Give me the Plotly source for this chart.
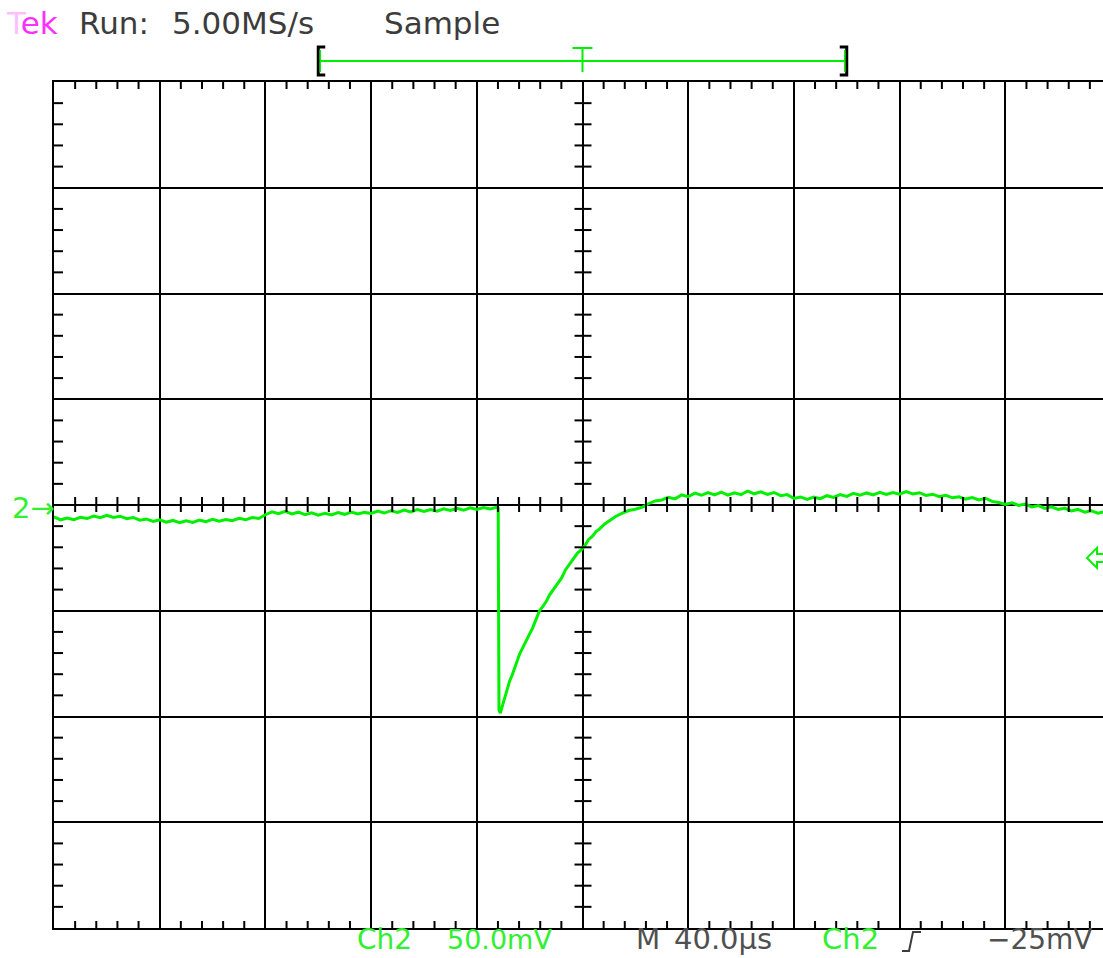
import plotly.graph_objects as go

# ---- Channel 2 record: time (µs, trigger at 0) and voltage (mV) ----
t_us = [
    -200.0, -197.5, -195.0, -192.5, -190.0, -187.5, -185.0, -182.5, -180.0, -177.5,
    -175.0, -172.5, -170.0, -167.5, -165.0, -162.5, -160.0, -157.5, -155.0, -152.5,
    -150.0, -147.5, -145.0, -142.5, -140.0, -137.5, -135.0, -132.5, -130.0, -127.5,
    -125.0, -122.5, -120.0, -117.5, -115.0, -112.5, -110.0, -107.5, -105.0, -102.5,
    -100.0, -97.5, -95.0, -92.5, -90.0, -87.5, -85.0, -82.5, -80.0, -77.5,
    -75.0, -72.5, -70.0, -67.5, -65.0, -62.5, -60.0, -57.5, -55.0, -52.5,
    -50.0, -47.5, -45.0, -42.5, -40.0, -37.5, -35.0, -32.5,
    -31.9, -31.6, -31.1,
    -30.2, -29.5, -28.5, -27.6, -26.6, -25.7, -24.8, -23.8, -22.5, -21.2,
    -20.0, -18.9, -17.6, -16.3, -15.0, -13.6, -12.5, -11.4, -9.7, -7.9,
    -6.4, -4.9, -3.4, -1.9, -0.5, 0.8, 2.3, 3.8, 5.1, 6.4,
    8.3, 10.2, 12.5, 15.1, 17.5, 20.0, 22.7, 25.0, 27.5, 30.0,
    32.5, 35.0, 37.5, 40.0, 42.5, 45.0, 47.5, 50.0, 52.5, 55.0,
    57.5, 60.0, 62.5, 65.0, 67.5, 70.0, 72.5, 75.0, 77.5, 80.0,
    82.5, 85.0, 87.5, 90.0, 92.5, 95.0, 97.5, 100.0, 102.5, 105.0,
    107.5, 110.0, 112.5, 115.0, 117.5, 120.0, 122.5, 125.0, 127.5, 130.0,
    132.5, 135.0, 137.5, 140.0, 142.5, 145.0, 147.5, 150.0, 152.5, 155.0,
    157.5, 160.0, 162.5, 165.0, 167.5, 170.0, 172.5, 175.0, 177.5, 180.0,
    182.5, 185.0, 187.5, 190.0, 192.5, 195.0, 197.5,
]
v_mv = [
    -5.6, -7.0, -6.2, -6.9, -5.8, -6.4, -5.2, -6.0, -4.9, -5.9,
    -5.3, -6.5, -5.9, -7.2, -6.6, -7.8, -7.0, -8.1, -7.3, -8.4,
    -7.5, -8.2, -7.1, -7.9, -6.8, -7.7, -6.9, -7.4, -6.3, -7.0,
    -5.9, -6.4, -4.6, -3.2, -4.1, -3.0, -4.2, -3.4, -4.6, -3.7,
    -4.8, -3.9, -4.7, -3.6, -4.4, -3.3, -4.2, -3.5, -4.0, -2.9,
    -3.8, -2.7, -3.5, -2.4, -3.3, -2.2, -3.0, -2.1, -2.9, -1.8,
    -2.6, -1.6, -2.4, -1.3, -2.1, -1.2, -1.9, -1.1,
    -1.6, -97.0, -98.4,
    -94.5, -91.3, -87.6, -83.3, -80.4, -77.1, -74.0, -70.5, -67.2, -64.3,
    -60.9, -58.2, -54.0, -50.1, -47.9, -45.4, -42.6, -40.7, -37.3, -34.5,
    -30.6, -27.9, -25.0, -22.7, -21.2, -19.4, -16.3, -14.7, -12.6, -11.4,
    -9.1, -7.6, -5.4, -3.8, -2.6, -2.0, -1.0, 0.6, 1.9, 2.4,
    3.6, 2.9, 4.8, 3.9, 5.6, 4.6, 5.9, 4.8, 6.1, 4.7,
    5.8, 4.9, 6.6, 5.3, 6.2, 5.0, 5.9, 4.4, 4.9, 3.1,
    3.8, 2.6, 3.7, 3.0, 4.4, 3.6, 4.9, 4.1, 5.5, 4.6,
    5.7, 4.8, 6.0, 5.0, 5.9, 5.1, 6.3, 5.2, 5.8, 4.5,
    5.1, 3.9, 4.6, 3.4, 3.9, 2.8, 3.5, 2.4, 3.2, 1.7,
    1.2, 0.3, 1.0, -0.2, 0.4, -0.9, -0.3, -1.6, -0.9, -2.1,
    -1.5, -2.8, -2.1, -3.4, -2.7, -3.9, -3.2,
]

# ---- Scope settings ----
time_per_div = 40.0      # µs
volts_per_div = 50.0     # mV
trigger_level = -25.0    # mV
record_window = (-100.0, 100.0)  # µs, shown in the top bar

# ---- Page geometry (pixels) ----
W, H = 1103, 958
L, R, T, B = 54, 1103, 82, 928
PX_PER_DIV = 105.7
x_lo = -5 * time_per_div
x_hi = x_lo + (R - L) / PX_PER_DIV * time_per_div
y_lo, y_hi = -4 * volts_per_div, 4 * volts_per_div


def pxx(x):
    return (x - L) / (R - L)


def pxy(y):
    return (B - y) / (B - T)


GREEN = "#00f000"
TXT_GREEN = "#30f030"
GRAY = "#3c3c3c"
FONT = "DejaVu Sans"

fig = go.Figure()
fig.add_trace(go.Scatter(
    x=t_us, y=v_mv, mode="lines",
    line=dict(color=GREEN, width=3),
    hoverinfo="skip", showlegend=False,
))

shapes = []
# graticule minor ticks
minor_x = [x_lo + i * time_per_div / 5 for i in range(60)]
minor_x = [x for x in minor_x if x <= x_hi and abs(round(x / time_per_div) * time_per_div - x) > 1e-6]
minor_y = [y_lo + i * volts_per_div / 5 for i in range(41)]
minor_y = [y for y in minor_y if abs(round(y / volts_per_div) * volts_per_div - y) > 1e-6]
tick = dict(color="black", width=2)
for x in minor_x:
    shapes.append(dict(type="line", xref="x", yref="y", ysizemode="pixel", yanchor=y_hi,
                       x0=x, x1=x, y0=0, y1=-7, line=tick))
    shapes.append(dict(type="line", xref="x", yref="y", ysizemode="pixel", yanchor=y_lo,
                       x0=x, x1=x, y0=0, y1=7, line=tick))
    shapes.append(dict(type="line", xref="x", yref="y", ysizemode="pixel", yanchor=0,
                       x0=x, x1=x, y0=-7, y1=8, line=tick))
for y in minor_y:
    shapes.append(dict(type="line", xref="x", yref="y", xsizemode="pixel", xanchor=x_lo,
                       x0=0, x1=9, y0=y, y1=y, line=tick))
    shapes.append(dict(type="line", xref="x", yref="y", xsizemode="pixel", xanchor=0,
                       x0=-8, x1=9, y0=y, y1=y, line=tick))

# record-window bar above the graticule
bar_y = pxy(61)
shapes.append(dict(type="line", xref="x", yref="paper", x0=record_window[0], x1=record_window[1],
                   y0=bar_y, y1=bar_y, line=dict(color=GREEN, width=2)))
for xa, d in ((record_window[0], 1), (record_window[1], -1)):
    path = (f"M {d*7},{pxy(47)} L 0,{pxy(47)} L 0,{pxy(75)} L {d*7},{pxy(75)}")
    shapes.append(dict(type="path", xref="x", yref="paper", xsizemode="pixel", xanchor=xa,
                       path=path, line=dict(color="black", width=3)))
    shapes.append(dict(type="line", xref="x", yref="paper", xsizemode="pixel", xanchor=xa,
                       x0=d * 2, x1=d * 2, y0=pxy(50), y1=pxy(72), line=dict(color=GREEN, width=1.5)))
# trigger position "T"
shapes.append(dict(type="line", xref="x", yref="paper", xsizemode="pixel", xanchor=0,
                   x0=-10, x1=10, y0=pxy(48), y1=pxy(48), line=dict(color=GREEN, width=2)))
shapes.append(dict(type="line", xref="x", yref="paper", x0=0, x1=0,
                   y0=pxy(48), y1=pxy(72), line=dict(color=GREEN, width=2)))
# trigger-level arrow on the right edge
shapes.append(dict(type="path", xref="x", yref="y", xsizemode="pixel", xanchor=x_hi,
                   ysizemode="pixel", yanchor=trigger_level,
                   path="M 0,-4 L -6,-4 L -6,-10 L -16,0 L -6,10 L -6,4 L 0,4",
                   line=dict(color=GREEN, width=2)))
# trigger slope glyph in the status line
shapes.append(dict(type="path", xref="paper", yref="paper",
                   path=(f"M {pxx(902)},{pxy(951)} L {pxx(909)},{pxy(951)} "
                         f"L {pxx(913)},{pxy(932)} L {pxx(921)},{pxy(932)}"),
                   line=dict(color=GRAY, width=2)))

annotations = []


def label(text, x, y, color, size=31):
    annotations.append(dict(text=text, x=pxx(x), y=pxy(y), xref="paper", yref="paper",
                            xanchor="left", yanchor="middle", showarrow=False,
                            font=dict(family=FONT, size=size, color=color)))


label('<span style="color:#ffc0ff">T</span>ek', 4, 23, "#ff30ff")
label("Run:", 77, 23, GRAY)
label("5.00MS/s", 170, 23, GRAY)
label("Sample", 382, 23, GRAY)
label("2→", 10, 508, TXT_GREEN, size=29)

BOT = 939
label("Ch2", 355, BOT, TXT_GREEN, size=28)
label("50.0mV", 445, BOT, TXT_GREEN, size=27)
label("M", 634, BOT, "#505050", size=28)
label("40.0µs", 672, BOT, "#505050", size=29)
label("Ch2", 820, BOT, TXT_GREEN, size=29)
label("−25mV", 985, BOT, "#505050", size=28)

axis_common = dict(showticklabels=False, ticks="", zeroline=False,
                   showgrid=True, gridcolor="black", gridwidth=2)
fig.update_layout(
    width=W, height=H,
    margin=dict(l=L, r=W - R, t=T, b=H - B),
    paper_bgcolor="white", plot_bgcolor="white",
    xaxis=dict(range=[x_lo, x_hi], tick0=x_lo, dtick=time_per_div,
               showline=True, mirror=True, linecolor="black", linewidth=2, **axis_common),
    yaxis=dict(range=[y_lo, y_hi], tick0=y_lo, dtick=volts_per_div,
               showline=True, mirror=False, linecolor="black", linewidth=2, **axis_common),
    shapes=shapes,
    annotations=annotations,
    showlegend=False,
)

fig.write_html("out.html")
